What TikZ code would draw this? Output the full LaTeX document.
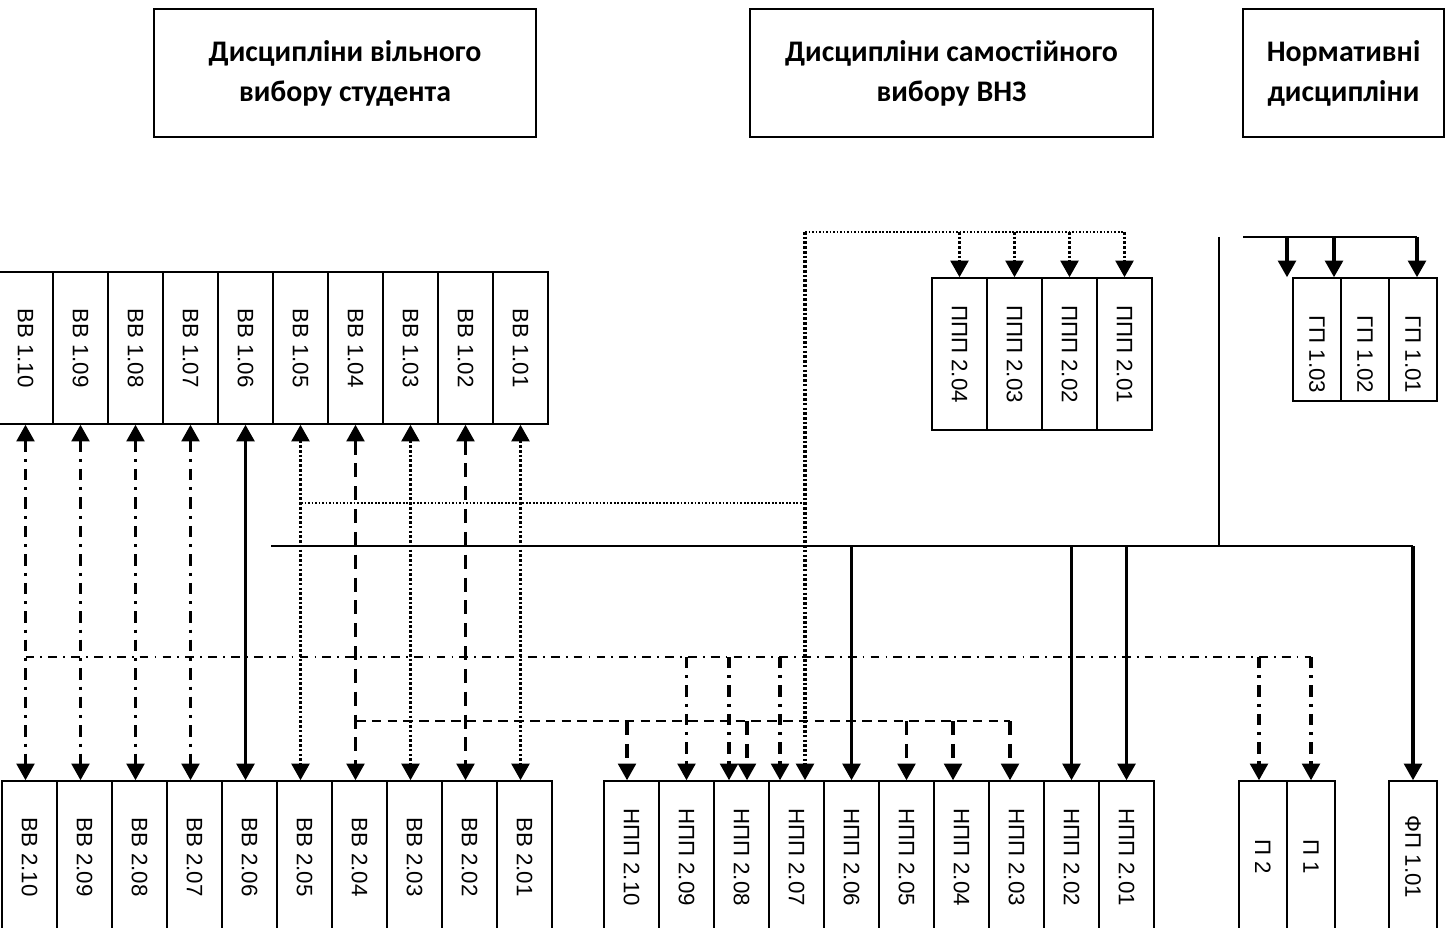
\documentclass[tikz,border=0pt]{standalone}
\usepackage{fontspec}
\setmainfont{Liberation Sans}
\newfontfamily\hdfont{Carlito}
\usepackage{graphicx}
\usetikzlibrary{arrows.meta,calc}

\newcommand{\vlabel}[1]{\rotatebox{-90}{#1}}

\tikzset{
	hdbox/.style={draw, line width=0.8pt, inner sep=0pt, align=center, minimum height=2.56cm, font=\hdfont\bfseries\fontsize{17}{22.7}\selectfont},
	cell/.style={draw, line width=0.8pt, inner sep=0pt, minimum width=1.1cm, minimum height=3.04cm, font=\fontsize{12.7}{15}\selectfont},
	narrow/.style={cell, minimum width=0.96cm},
	arr/.style={-{Triangle[width=10pt,length=9.5pt]}},
	dbl/.style={{Triangle[width=10pt,length=9.5pt]}-{Triangle[width=10pt,length=9.5pt]}},
	vdashdot/.style={line width=2pt, dash pattern=on 6.5pt off 4pt on 1.7pt off 4pt},
	vdash/.style={line width=2pt, dash pattern=on 8pt off 5pt},
	vdot/.style={line width=2.1pt, dash pattern=on 1.5pt off 1.2pt},
	vsolid/.style={line width=2.2pt},
	hdashdot/.style={line width=1pt, dash pattern=on 5pt off 3.5pt on 1pt off 3.5pt},
	hdash/.style={line width=1.1pt, dash pattern=on 5.5pt off 3.5pt},
	hdot/.style={line width=1pt, dash pattern=on 1pt off 1pt},
	hsolid/.style={line width=1.1pt}
}

\begin{document}
\begin{tikzpicture}[x=0.02cm, y=-0.02cm]
	\path[use as bounding box, fill=white] (0,0) rectangle (1452,928);

	% headers
	\node[hdbox, minimum width=7.64cm] (h1) at (345,73) {Дисципліни вільного\\вибору студента\vphantom{Д}};
	\node[hdbox, minimum width=8.06cm] (h2) at (951.5,73) {Дисципліни самостійного\\вибору ВНЗ\vphantom{Д}};
	\node[hdbox, minimum width=4.02cm] (h3) at (1343.5,73) {Нормативні\\дисципліни\vphantom{Д}};

	% rows of boxes
	\foreach \n [count=\i from 0] in {10,09,08,07,06,05,04,03,02,01} {
		\node[cell] (vv1\n) at ({25.5+55*\i},348) {\vlabel{ВВ 1.\n}};
		\node[cell] (vv2\n) at ({29.5+55*\i},857) {\vlabel{ВВ 2.\n}};
		\node[cell] (npp\n) at ({631.5+55*\i},857) {\vlabel{НПП 2.\n}};
	}
	\foreach \n [count=\i from 0] in {04,03,02,01}
		\node[cell] (ppp\n) at ({959.5+55*\i},354) {\vlabel{ППП 2.\n}};
	\foreach \n [count=\i from 0] in {03,02,01}
		\node[narrow, minimum height=2.46cm] (gp1\n) at ({1317+48*\i},339.5) {\vlabel{\hspace{0.6cm}ГП 1.\n}};
	\node[narrow] (p2) at (1263,857) {\vlabel{П 2}};
	\node[narrow] (p1) at (1311,857) {\vlabel{П 1}};
	\node[narrow] (fp101) at (1413,857) {\vlabel{ФП 1.01}};

	% ВВ 1 <-> ВВ 2
	\foreach \n/\s in {10/vdashdot,09/vdashdot,08/vdashdot,07/vdashdot,06/vsolid,05/vdot,04/vdash,03/vdot,02/vdash,01/vdot}
		\draw[\s, dbl] (vv1\n.south) -- (vv1\n.south |- vv2\n.north);

	% bus ends
	\coordinate (ddL) at (25.5,657);
	\coordinate (dsL) at (356,721);
	\coordinate (dtL) at (301,503);
	\coordinate (dtK) at (805,503);
	\coordinate (dtT) at (805,232);
	\coordinate (sL) at (271,546);
	\coordinate (sV) at (1219,546);
	\coordinate (sVT) at (1219,237);
	\coordinate (gL) at (1243,237);

	% dash-dot bus
	\foreach \m/\dx in {npp09/0,npp08/-12.5,npp07/-16.5,p2/-4,p1/0} {
		\coordinate (a\m) at ($(\m.north)+(\dx,0)$);
		\draw[vdashdot, arr] (a\m |- ddL) -- (a\m);
	}
	\draw[hdashdot] (ddL) -- (ap1 |- ddL);

	% dashed bus
	\foreach \m/\dx in {npp10/-4.5,npp08/5.5,npp05/0,npp04/-8.5,npp03/-6.5} {
		\coordinate (b\m) at ($(\m.north)+(\dx,0)$);
		\draw[vdash, arr] (b\m |- dsL) -- (b\m);
	}
	\draw[hdash] (dsL) -- (bnpp03 |- dsL);

	% dotted bus
	\draw[hdot] (dtL) -- (dtK);
	\draw[vdot, arr] (dtT) -- (dtT |- npp07.north);
	\draw[hdot] (dtT) -- (ppp01.north |- dtT);
	\foreach \m in {ppp04,ppp03,ppp02,ppp01}
		\draw[vdot, arr] (\m.north |- dtT) -- (\m.north);

	% solid bus
	\draw[hsolid] (sVT) -- (sV);
	\draw[hsolid] (sL) -- (fp101.north |- sL);
	\foreach \m in {npp06,npp02,npp01,fp101}
		\draw[vsolid, arr] (\m.north |- sL) -- (\m.north);
	\foreach \m/\dx in {gp103/-30,gp102/-31,gp101/4} {
		\coordinate (c\m) at ($(\m.north)+(\dx,0)$);
		\draw[vsolid, arr] (c\m |- gL) -- (c\m);
	}
	\draw[hsolid] (gL) -- (cgp101 |- gL);
\end{tikzpicture}
\end{document}
